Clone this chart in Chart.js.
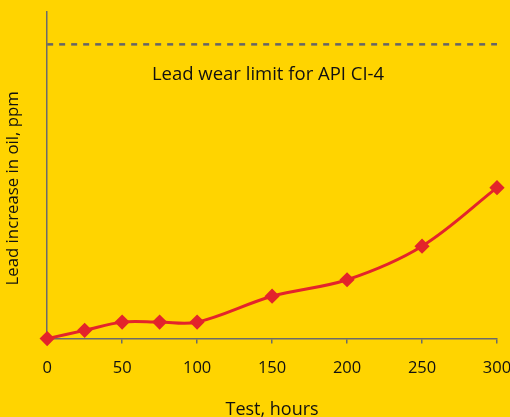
<!DOCTYPE html>
<html>
<head>
<meta charset="utf-8">
<script src="https://cdn.jsdelivr.net/npm/chart.js@4"></script>
<style>
  html, body { margin: 0; padding: 0; background: #FFD400; }
  #wrap { width: 510px; height: 417px; }
</style>
</head>
<body>
<div id="wrap"><canvas id="leadChart"></canvas></div>
<script>
const hours = [0, 25, 50, 75, 100, 150, 200, 250, 300];
const leadPpm = [0, 2.8, 5.6, 5.6, 5.6, 14.4, 20, 31.4, 51.3];
const limitHours = [0, 300];
const limitPpm = [100, 100];
const limitLabel = "Lead wear limit for API CI-4";
const xTicks = [0, 50, 100, 150, 200, 250, 300];

const font = "'Open Sans', sans-serif";

// writes the limit caption just under the dashed line
const limitText = {
  id: "limitText",
  afterDatasetsDraw(chart) {
    const { ctx, scales } = chart;
    ctx.save();
    ctx.font = "18.5px " + font;
    ctx.fillStyle = "#111";
    ctx.textAlign = "center";
    ctx.textBaseline = "middle";
    ctx.fillText(limitLabel, scales.x.getPixelForValue(147.3), scales.y.getPixelForValue(89.8));
    ctx.restore();
  }
};

new Chart(document.getElementById("leadChart"), {
  type: "scatter",
  data: {
    datasets: [
      {
        label: "Lead",
        data: hours.map((h, i) => ({ x: h, y: leadPpm[i] })),
        showLine: true,
        borderColor: "#E3242B",
        backgroundColor: "#E3242B",
        borderWidth: 3,
        tension: 0.35,
        pointStyle: "rectRot",
        pointRadius: 5.5,
        pointHoverRadius: 5.5,
        clip: false
      },
      {
        label: "Limit",
        data: limitHours.map((h, i) => ({ x: h, y: limitPpm[i] })),
        showLine: true,
        borderColor: "#666666",
        borderWidth: 2.5,
        borderDash: [6, 6],
        pointRadius: 0
      }
    ]
  },
  options: {
    responsive: true,
    maintainAspectRatio: false,
    animation: false,
    layout: { autoPadding: false, padding: { top: 12, right: 0, left: 3, bottom: 0 } },
    plugins: { legend: { display: false }, tooltip: { enabled: false } },
    scales: {
      x: {
        type: "linear",
        min: 0,
        max: 300,
        afterBuildTicks: (axis) => { axis.ticks = xTicks.map(v => ({ value: v })); },
        // tick padding would otherwise also widen the right margin
        afterFit: (axis) => { axis.paddingRight = 13; },
        grid: { display: true, drawOnChartArea: false, drawTicks: true, tickLength: 5, color: "#6b6b6b", lineWidth: 1.5 },
        border: { display: true, color: "#6b6b6b", width: 1.5 },
        ticks: { color: "#111", font: { family: font, size: 16.5 }, padding: 15, maxRotation: 0 },
        title: { display: true, text: "Test, hours", color: "#111", font: { family: font, size: 18 }, padding: { top: 6, bottom: -4 } }
      },
      y: {
        min: 0,
        max: 111,
        grid: { display: false },
        border: { display: true, color: "#6b6b6b", width: 1.5 },
        ticks: { display: false },
        // trailing spaces nudge the rotated title down a little, as in the original
        title: { display: true, text: "Lead increase in oil, ppm      ", color: "#111", font: { family: font, size: 16.8 }, padding: { top: 0, bottom: 16 } }
      }
    }
  },
  plugins: [limitText]
});
</script>
</body>
</html>
